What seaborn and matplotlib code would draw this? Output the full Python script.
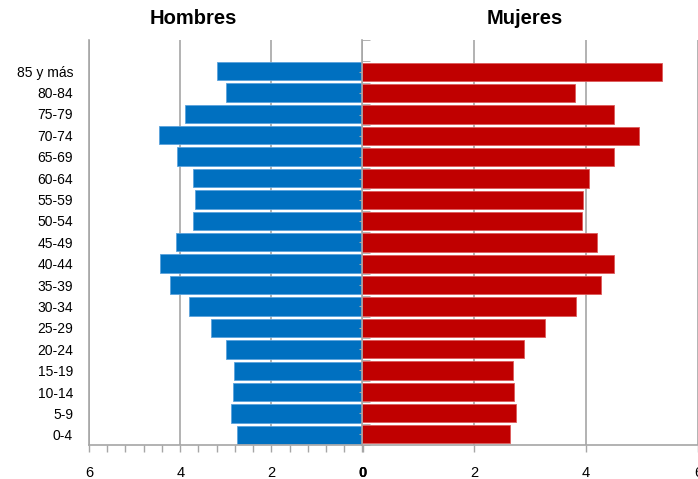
import matplotlib
matplotlib.use('Agg')
import matplotlib.pyplot as plt
import seaborn as sns
import pandas as pd
from matplotlib.ticker import MultipleLocator

# Datos (porcentaje de la población por grupo de edad)
grupos = ['0-4', '5-9', '10-14', '15-19', '20-24', '25-29', '30-34', '35-39',
          '40-44', '45-49', '50-54', '55-59', '60-64', '65-69', '70-74',
          '75-79', '80-84', '85 y más']
hombres = [2.76, 2.89, 2.85, 2.83, 3.00, 3.33, 3.81, 4.23, 4.45, 4.09,
           3.71, 3.68, 3.71, 4.08, 4.47, 3.90, 2.99, 3.19]
mujeres = [2.63, 2.74, 2.71, 2.69, 2.88, 3.27, 3.81, 4.26, 4.49, 4.20,
           3.92, 3.94, 4.05, 4.49, 4.94, 4.49, 3.80, 5.35]

sns.set_style('white')
plt.rcParams['font.family'] = ['Liberation Sans', 'DejaVu Sans']
plt.rcParams.update({'text.color': 'black', 'xtick.labelcolor': 'black',
                     'ytick.labelcolor': 'black'})

df = pd.DataFrame({'grupo': grupos, 'Hombres': hombres, 'Mujeres': mujeres})
orden = grupos[::-1]
gris = '#a6a6a6'

fig = plt.figure(figsize=(6.98, 4.79), dpi=100)
ax1 = fig.add_axes([0.1275, 0.0710, 0.3921, 0.8455])
ax2 = fig.add_axes([0.5193, 0.0710, 0.4807, 0.8455])

sns.barplot(data=df, x='Hombres', y='grupo', order=orden, color='#0070C0',
            saturation=1, width=0.86, edgecolor='#5aa2dc', linewidth=0.6, ax=ax1)
sns.barplot(data=df, x='Mujeres', y='grupo', order=orden, color='#C00000',
            saturation=1, width=0.86, edgecolor='#dc5a5a', linewidth=0.6, ax=ax2)

for ax in (ax1, ax2):
    ax.set_ylim(17.47, -1.45)
    ax.set_xlabel('')
    ax.set_ylabel('')
    ax.set_axisbelow(True)
    ax.grid(axis='x', which='major', color=gris, lw=1.2)
    ax.spines['top'].set_visible(False)
    ax.spines['right'].set_visible(False)
    for s in ('left', 'bottom'):
        ax.spines[s].set_color(gris)
        ax.spines[s].set_linewidth(1.2)

# Hombres (eje invertido)
ax1.set_xlim(6, 0)
ax1.set_xticks([6, 4, 2, 0])
ax1.set_xticklabels(['6', '4', '2', '0'])
ax1.xaxis.set_minor_locator(MultipleLocator(0.4))
ax1.tick_params(axis='x', which='both', bottom=True, direction='out', length=5,
                width=1, color=gris, labelsize=10.5, pad=10)
ax1.tick_params(axis='y', length=0, pad=11.5, labelsize=10)
ax1.get_xticklabels()[-1].set_fontweight('bold')

# Mujeres
ax2.set_xlim(0, 6)
ax2.set_xticks([0, 2, 4, 6])
ax2.set_xticklabels(['0', '2', '4', '6'])
ax2.tick_params(axis='x', bottom=True, direction='out', length=5, width=1,
                color=gris, labelsize=10.5, pad=10)
ax2.get_xticklabels()[0].set_fontweight('bold')
ax2.set_yticks([i + 0.5 for i in range(-2, 18)], minor=True)
ax2.tick_params(axis='y', which='major', left=True, labelleft=False, length=2,
                direction='out', color=gris)
ax2.tick_params(axis='y', which='minor', left=True, length=6, direction='in',
                color=gris)

fig.text(193 / 698, 1 - 19 / 479, 'Hombres', ha='center', va='center',
         fontsize=14.5, fontweight='bold')
fig.text(525 / 698, 1 - 19 / 479, 'Mujeres', ha='center', va='center',
         fontsize=14.5, fontweight='bold')

fig.savefig('out.png', dpi=100)
